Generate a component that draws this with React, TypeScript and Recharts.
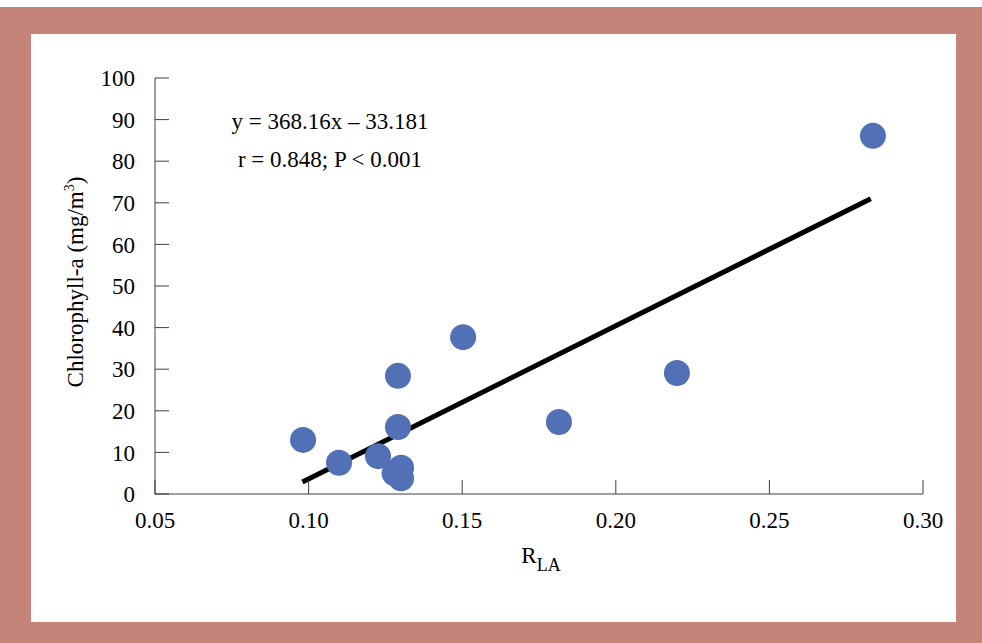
import React from 'react';
import { ScatterChart, Scatter, XAxis, YAxis, ReferenceLine } from 'recharts';

// R_LA vs chlorophyll-a
const rla = [0.2837, 0.2199, 0.1815, 0.1503, 0.1291, 0.1291, 0.0982, 0.1099, 0.1226, 0.1301, 0.128, 0.1301];
const chla = [86.1, 29.1, 17.3, 37.7, 28.4, 16.1, 13.0, 7.5, 9.1, 6.3, 5.0, 3.8];

// fitted line end points (y = 368.16x - 33.181)
const fitX = [0.098, 0.283];
const fitY = [2.9, 71.0];

const xTicks = [0.05, 0.1, 0.15, 0.2, 0.25, 0.3];
const yTicks = [0, 10, 20, 30, 40, 50, 60, 70, 80, 90, 100];

const FONT = '"Liberation Serif", "Times New Roman", serif';
const FS = 23;
const BLUE = '#5270b5';
const PINK = '#c5847a';

const points = rla.map((x, i) => ({ x, y: chla[i] }));

const Dot = (p: any) => <circle cx={p.cx} cy={p.cy} r={13} fill={BLUE} />;

const YLabel = (props: any) => {
  const vb = props.viewBox || {};
  const cx = vb.x + vb.width - 80;
  const cy = vb.y + vb.height / 2 - 4;
  return (
    <text x={cx} y={cy} transform={`rotate(-90 ${cx} ${cy})`} textAnchor="middle" dominantBaseline="central"
      fontFamily={FONT} fontSize={FS} fill="#000">
      Chlorophyll-a (mg/m<tspan dy={-6} fontSize={14}>3</tspan><tspan dy={6}>)</tspan>
    </text>
  );
};

const XLabel = (props: any) => {
  const vb = props.viewBox || {};
  return (
    <text x={vb.x + vb.width / 2 + 2} y={vb.y + 69} textAnchor="middle" fontFamily={FONT} fontSize={FS} fill="#000">
      R<tspan dy={8} fontSize={18}>LA</tspan>
    </text>
  );
};

const tickStyle = { fontFamily: FONT, fontSize: FS, fill: '#000' };
const noteStyle: React.CSSProperties = {
  position: 'absolute', left: 180, width: 300, textAlign: 'center',
  fontFamily: FONT, fontSize: FS, color: '#000', lineHeight: '28px',
};

export default function App() {
  return (
    <div style={{ position: 'absolute', left: 0, top: 0, width: 982, height: 643, background: '#fff' }}>
      <div style={{ position: 'absolute', left: 0, top: 7, width: 982, height: 636, background: PINK }} />
      <div style={{ position: 'absolute', left: 31, top: 34, width: 925, height: 588, background: '#fff' }} />
      <div style={{ position: 'absolute', left: 0, top: 0 }}>
        <ScatterChart width={982} height={643} margin={{ top: 78, right: 59, left: 95, bottom: 89 }}>
          <XAxis type="number" dataKey="x" domain={[0.05, 0.3]} ticks={xTicks} height={60}
            tickFormatter={(v: number) => v.toFixed(2)} tick={tickStyle}
            axisLine={{ stroke: '#404040' }} tickLine={{ stroke: '#404040' }} tickSize={-14} tickMargin={32}
            allowDataOverflow label={<XLabel />} />
          <YAxis type="number" dataKey="y" domain={[0, 100]} ticks={yTicks} width={60}
            tick={tickStyle} axisLine={{ stroke: '#404040' }} tickLine={{ stroke: '#404040' }}
            tickSize={-14} tickMargin={34} allowDataOverflow label={<YLabel />} />
          <Scatter data={points} fill={BLUE} shape={<Dot />} isAnimationActive={false} />
          <ReferenceLine segment={[{ x: fitX[0], y: fitY[0] }, { x: fitX[1], y: fitY[1] }]}
            stroke="#000" strokeWidth={5} ifOverflow="visible" />
        </ScatterChart>
      </div>
      <div style={{ ...noteStyle, top: 108 }}>y = 368.16x – 33.181</div>
      <div style={{ ...noteStyle, top: 146 }}>r = 0.848; P &lt; 0.001</div>
    </div>
  );
}
